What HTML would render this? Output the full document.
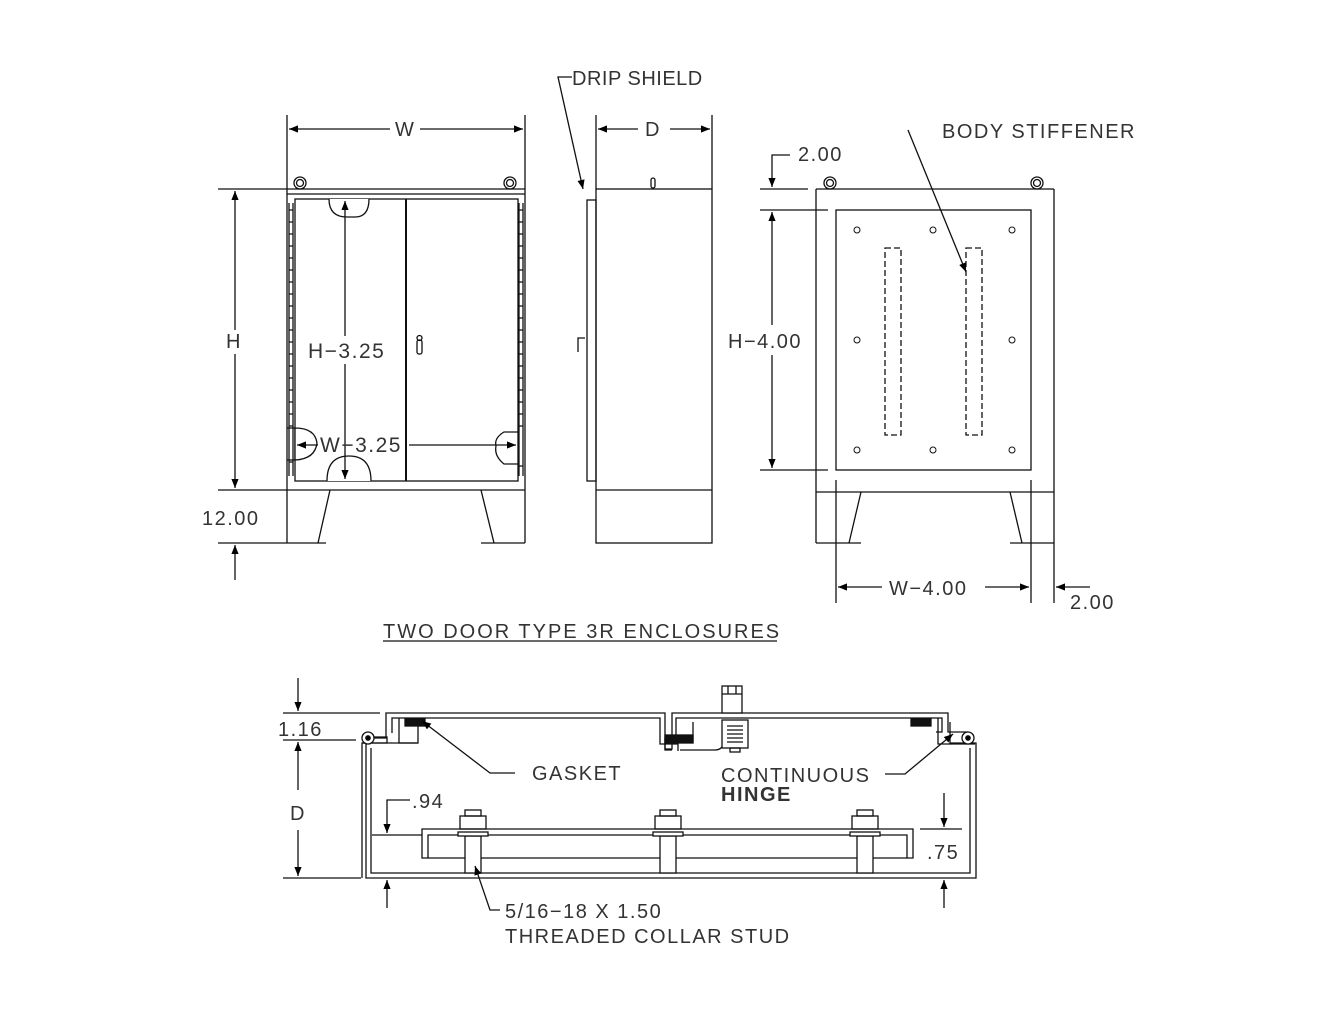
<!DOCTYPE html>
<html><head><meta charset="utf-8"><style>
html,body{margin:0;padding:0;background:#fff;}
svg{display:block;}
text{font-family:"Liberation Sans",sans-serif;font-size:20px;fill:#333;letter-spacing:1.5px;}
</style></head><body>
<svg width="1320" height="1020" viewBox="0 0 1320 1020" xmlns="http://www.w3.org/2000/svg">
<defs>
<marker id="a" viewBox="0 0 10 10" refX="10" refY="5" markerWidth="20" markerHeight="9" orient="auto-start-reverse" markerUnits="userSpaceOnUse"><path d="M0,1 L10,5 L0,9z" fill="#000"/></marker>
</defs>
<g fill="none" stroke="#111" stroke-width="1.3">
<!-- FRONT VIEW -->
<line x1="287" y1="115" x2="287" y2="543"/><line x1="525" y1="115" x2="525" y2="543"/>
<line x1="218" y1="189" x2="525" y2="189"/><line x1="287" y1="194" x2="525" y2="194"/>
<line x1="218" y1="490" x2="525" y2="490"/>
<line x1="218" y1="543" x2="326" y2="543"/><line x1="481" y1="543" x2="525" y2="543"/>
<line x1="330" y1="490" x2="318" y2="543"/><line x1="481" y1="490" x2="494" y2="543"/>
<rect x="295" y="199" width="223" height="282"/>
<line x1="406" y1="199" x2="406" y2="481" stroke-width="2"/>
<line x1="289" y1="203" x2="289" y2="476"/><line x1="293" y1="203" x2="293" y2="476"/>
<line x1="519" y1="203" x2="519" y2="476"/><line x1="523" y1="203" x2="523" y2="476"/>
<path d="M289,210h4M289,222h4M289,234h4M289,246h4M289,258h4M289,270h4M289,282h4M289,294h4M289,306h4M289,318h4M289,330h4M289,342h4M289,354h4M289,366h4M289,378h4M289,390h4M289,402h4M289,414h4M289,426h4M289,462h4M519,210h4M519,222h4M519,234h4M519,246h4M519,258h4M519,270h4M519,282h4M519,294h4M519,306h4M519,318h4M519,330h4M519,342h4M519,354h4M519,366h4M519,378h4M519,390h4M519,402h4M519,414h4M519,426h4M519,466h4"/>
<path d="M329,199 q0,18 18,18 h8 q14,0 14,-18" fill="#fff"/>
<path d="M327,481 q0,-25 22,-25 q22,0 22,25" fill="#fff"/>
<path d="M295,428 q20,0 22,15 q-2,16 -22,17z" fill="#fff"/><line x1="287" y1="428" x2="295" y2="428"/><line x1="287" y1="460" x2="295" y2="460"/>
<path d="M518,432 h-14 q-10,6 -8,14 q-2,10 8,18 h14z" fill="#fff"/>
<circle cx="300" cy="183" r="6"/><circle cx="300" cy="183" r="3.5"/>
<circle cx="510" cy="183" r="6"/><circle cx="510" cy="183" r="3.5"/>
<rect x="417" y="340" width="5" height="14" rx="2"/><circle cx="419.5" cy="338" r="2.5"/>
<line x1="235" y1="191" x2="235" y2="330" marker-start="url(#a)"/><line x1="235" y1="354" x2="235" y2="488" marker-end="url(#a)"/>
<line x1="235" y1="580" x2="235" y2="545" marker-end="url(#a)"/>
<line x1="289" y1="129" x2="390" y2="129" marker-start="url(#a)"/><line x1="420" y1="129" x2="523" y2="129" marker-end="url(#a)"/>
<line x1="345" y1="201" x2="345" y2="336" marker-start="url(#a)"/><line x1="345" y1="364" x2="345" y2="479" marker-end="url(#a)"/>
<line x1="297" y1="445" x2="318" y2="445" marker-start="url(#a)"/><line x1="409" y1="445" x2="516" y2="445" marker-end="url(#a)"/>
<!-- SIDE VIEW -->
<rect x="596" y="189" width="116" height="354"/><line x1="596" y1="490" x2="712" y2="490"/>
<rect x="587" y="200" width="9" height="281"/>
<path d="M578,352 v-14 h7"/>
<rect x="651" y="178" width="4" height="10" rx="2"/>
<line x1="596" y1="115" x2="596" y2="189"/><line x1="712" y1="115" x2="712" y2="189"/>
<line x1="598" y1="129" x2="638" y2="129" marker-start="url(#a)"/><line x1="670" y1="129" x2="710" y2="129" marker-end="url(#a)"/>
<path d="M572,77 h-14 l25,112" marker-end="url(#a)"/>
<!-- RIGHT VIEW -->
<line x1="816" y1="189" x2="1054" y2="189"/><line x1="816" y1="189" x2="816" y2="543"/><line x1="1054" y1="189" x2="1054" y2="603"/>
<line x1="816" y1="492" x2="1054" y2="492"/>
<rect x="836" y="210" width="195" height="260"/>
<line x1="836" y1="480" x2="836" y2="603"/><line x1="1031" y1="480" x2="1031" y2="603"/>
<line x1="816" y1="543" x2="861" y2="543"/><line x1="861" y1="492" x2="849" y2="543"/>
<line x1="1010" y1="543" x2="1054" y2="543"/><line x1="1010" y1="492" x2="1022" y2="543"/>
<circle cx="830" cy="183" r="6"/><circle cx="830" cy="183" r="3.5"/>
<circle cx="1037" cy="183" r="6"/><circle cx="1037" cy="183" r="3.5"/>
<g stroke-width="1"><circle cx="857" cy="230" r="3"/><circle cx="933" cy="230" r="3"/><circle cx="1012" cy="230" r="3"/><circle cx="857" cy="340" r="3"/><circle cx="1012" cy="340" r="3"/><circle cx="857" cy="450" r="3"/><circle cx="933" cy="450" r="3"/><circle cx="1012" cy="450" r="3"/></g>
<rect x="885" y="248" width="16" height="187" stroke-dasharray="6,3"/>
<rect x="966" y="248" width="16" height="187" stroke-dasharray="6,3"/>
<line x1="760" y1="189" x2="808" y2="189"/><line x1="760" y1="210" x2="828" y2="210"/><line x1="760" y1="470" x2="828" y2="470"/>
<line x1="772" y1="212" x2="772" y2="325" marker-start="url(#a)"/><line x1="772" y1="355" x2="772" y2="468" marker-end="url(#a)"/>
<path d="M790,155 h-18 v32" marker-end="url(#a)"/>
<line x1="838" y1="587" x2="882" y2="587" marker-start="url(#a)"/><line x1="985" y1="587" x2="1029" y2="587" marker-end="url(#a)"/>
<line x1="1090" y1="587" x2="1056" y2="587" marker-end="url(#a)"/>
<line x1="908" y1="130" x2="966" y2="272" marker-end="url(#a)"/>
<line x1="383" y1="641" x2="777" y2="641"/>
<!-- BOTTOM SECTION -->
<path d="M366,743 v135 h610 v-135 h-26"/>
<path d="M366,743 h-4 v135"/>
<path d="M371,748 v125 h599 v-125"/>
<path d="M368,738 h18 v-25 h279 v36 h7 v-36 h276 v19 h20"/>
<path d="M372,743 h15 v-6 h-15"/>
<path d="M392,733 v-15 h268 v26 h18 v7"/>
<path d="M676,740 v-22 h266 v14 h-6"/>
<path d="M399,718 v25 h19 v-25"/>
<path d="M362,743 h56"/>
<path d="M938,718 v26 h12 v-22"/>
<path d="M950,744 h25"/>
<path d="M680,750 h35 q6,0 8,-5 q3,-5 12,-5 h12"/>
<path d="M672,750 h-7 v-12"/>
<circle cx="368" cy="738" r="6" fill="#fff"/><circle cx="368" cy="738" r="2.2" fill="#000"/>
<circle cx="968" cy="738" r="6" fill="#fff"/><circle cx="968" cy="738" r="2.2" fill="#000"/>
<rect x="405" y="719" width="20" height="7" fill="#111"/>
<rect x="911" y="719" width="20" height="7" fill="#111"/>
<rect x="665" y="735" width="28" height="8" fill="#111"/>
<line x1="693" y1="722" x2="693" y2="743"/>
<rect x="722" y="686" width="20" height="27" fill="#fff"/><line x1="728" y1="686" x2="728" y2="694"/><line x1="736" y1="686" x2="736" y2="694"/><line x1="722" y1="694" x2="742" y2="694"/>
<rect x="722" y="720" width="26" height="28" fill="#fff"/>
<path d="M727,726h16M727,730h16M727,734h16M727,738h16M727,742h16"/>
<rect x="730" y="748" width="10" height="4"/>
<path d="M422,858 v-29 h491 v29 h-6 v-23 h-479 v23z"/>
<line x1="428" y1="858" x2="907" y2="858"/>
<g>
<rect x="465" y="836" width="16" height="37" fill="#fff"/><rect x="458" y="832" width="30" height="4" fill="#fff"/><rect x="460" y="816" width="26" height="13"/><rect x="465" y="810" width="16" height="6"/>
<rect x="660" y="836" width="16" height="37" fill="#fff"/><rect x="653" y="832" width="30" height="4" fill="#fff"/><rect x="655" y="816" width="26" height="13"/><rect x="660" y="810" width="16" height="6"/>
<rect x="857" y="836" width="16" height="37" fill="#fff"/><rect x="850" y="832" width="30" height="4" fill="#fff"/><rect x="852" y="816" width="26" height="13"/><rect x="857" y="810" width="16" height="6"/>
</g>
<line x1="283" y1="713" x2="380" y2="713"/><line x1="283" y1="740" x2="356" y2="740"/><line x1="283" y1="878" x2="361" y2="878"/>
<line x1="298" y1="678" x2="298" y2="711" marker-end="url(#a)"/>
<line x1="298" y1="790" x2="298" y2="742" marker-end="url(#a)"/><line x1="298" y1="830" x2="298" y2="876" marker-end="url(#a)"/>
<path d="M410,800 h-23 v33" marker-end="url(#a)"/>
<line x1="372" y1="835" x2="422" y2="835"/>
<line x1="387" y1="908" x2="387" y2="880" marker-end="url(#a)"/>
<line x1="944" y1="793" x2="944" y2="827" marker-end="url(#a)"/>
<line x1="920" y1="829" x2="962" y2="829"/>
<line x1="944" y1="908" x2="944" y2="880" marker-end="url(#a)"/>
<path d="M515,773 h-25 l-68,-52" marker-end="url(#a)"/>
<path d="M885,774 h20 l48,-40" marker-end="url(#a)"/>
<path d="M500,910 h-10 l-15,-44" marker-end="url(#a)"/>
</g>
<text x="395" y="136">W</text>
<text x="645" y="136">D</text>
<text x="226" y="348">H</text>
<text x="202" y="525">12.00</text>
<text x="308" y="358" style="font-size:21px">H−3.25</text>
<text x="320" y="452" style="font-size:21px">W−3.25</text>
<text x="572" y="85" style="letter-spacing:0.5px">DRIP SHIELD</text>
<text x="942" y="138">BODY STIFFENER</text>
<text x="798" y="161">2.00</text>
<text x="728" y="348">H−4.00</text>
<text x="889" y="595">W−4.00</text>
<text x="1070" y="609">2.00</text>
<text x="383" y="638" style="letter-spacing:2px">TWO DOOR TYPE 3R ENCLOSURES</text>
<text x="278" y="736">1.16</text>
<text x="290" y="820">D</text>
<text x="412" y="808">.94</text>
<text x="927" y="859">.75</text>
<text x="532" y="780">GASKET</text>
<text x="721" y="782">CONTINUOUS</text>
<text x="721" y="801" style="font-weight:bold">HINGE</text>
<text x="505" y="918">5/16−18 X 1.50</text>
<text x="505" y="943">THREADED COLLAR STUD</text>
</svg>
</body></html>
